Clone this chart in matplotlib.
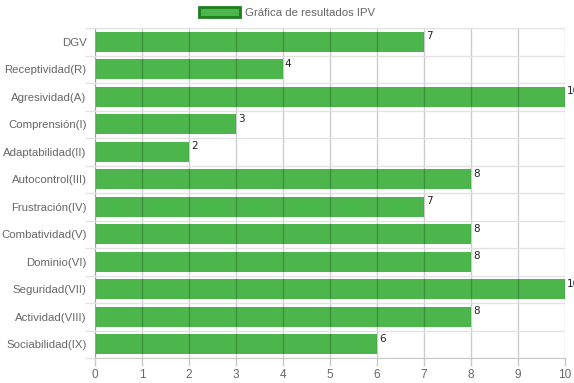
import matplotlib.pyplot as plt
import numpy as np
from matplotlib.patches import Patch

categorias = ["DGV", "Receptividad(R)", "Agresividad(A)", "Comprensión(I)",
              "Adaptabilidad(II)", "Autocontrol(III)", "Frustración(IV)",
              "Combatividad(V)", "Dominio(VI)", "Seguridad(VII)",
              "Actividad(VIII)", "Sociabilidad(IX)"]
valores = [7, 4, 10, 3, 2, 8, 7, 8, 8, 10, 8, 6]
ticks_x = list(range(0, 11))

verde = "#4cb54c"
borde = "#1e7d1e"

plt.rcParams['font.family'] = ['Liberation Sans', 'DejaVu Sans']

fig = plt.figure(figsize=(5.74, 3.83), dpi=100)
ax = fig.add_axes([95 / 574, 1 - 358 / 383, 470 / 574, 330 / 383])

y = np.arange(len(categorias))
ax.barh(y, valores, height=0.72, color=verde, zorder=1)

for yi, v in zip(y, valores):
    ax.text(v + 0.04, yi - 0.38, str(v), fontsize=7.5, color="#222222",
            va="top", ha="left", family="DejaVu Sans", clip_on=False)

ax.set_xlim(0, 10)
ax.set_ylim(len(categorias) - 0.5, -0.5)
ax.set_xticks(ticks_x)
ax.set_xticklabels([str(t) for t in ticks_x], fontsize=8.5, color="#666666")
ax.set_yticks(y)
ax.set_yticklabels(categorias, fontsize=8.2, color="#666666")
ax.set_yticks(np.arange(-0.5, len(categorias), 1), minor=True)

ax.tick_params(axis="y", which="major", length=0, pad=6)
ax.tick_params(axis="y", which="minor", length=7, color="#e2e2e2", width=1)
ax.tick_params(axis="x", length=6, color="#c8c8c8", width=1, pad=2)

ax.grid(axis="x", which="major", color="#000000", alpha=0.2, lw=1, zorder=2)
ax.grid(axis="y", which="minor", color="#e2e2e2", lw=1, zorder=0)
ax.set_axisbelow(False)
for s in ["top", "right"]:
    ax.spines[s].set_visible(False)
ax.spines["left"].set_color("#c8c8c8")
ax.spines["bottom"].set_color("#c8c8c8")

fig.legend(handles=[Patch(facecolor=verde, edgecolor=borde, lw=2)],
           labels=["Gráfica de resultados IPV"], loc="upper center",
           bbox_to_anchor=(0.5, 1.0), frameon=False, fontsize=8.2,
           handlelength=3.6, handleheight=1.0, handletextpad=0.4,
           labelcolor="#666666", borderaxespad=0.2)

fig.savefig("out.png", dpi=100)
